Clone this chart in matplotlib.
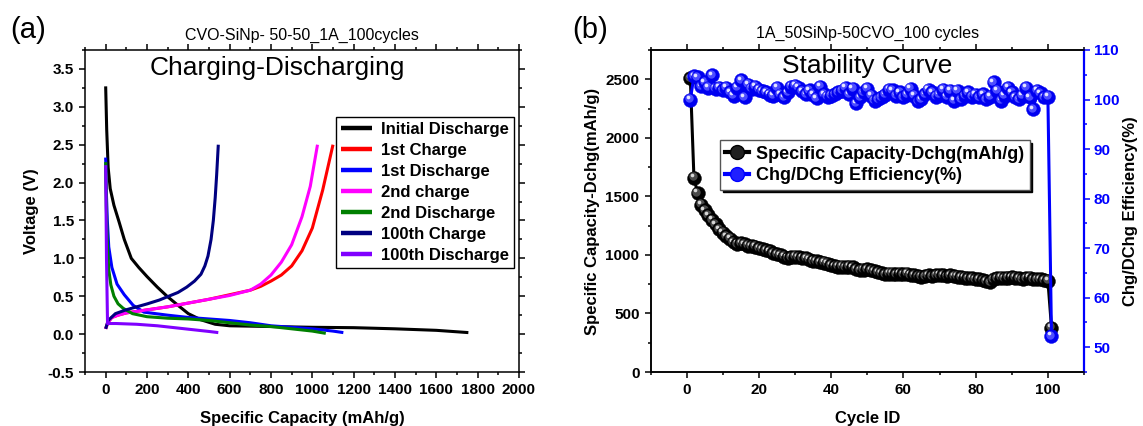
import matplotlib
matplotlib.use("Agg")
import matplotlib.pyplot as plt
from matplotlib.lines import Line2D
from matplotlib.transforms import offset_copy

plt.rcParams['font.family'] = ['Liberation Sans', 'DejaVu Sans']
plt.rcParams['font.weight'] = 'bold'
plt.rcParams['axes.labelweight'] = 'bold'
plt.rcParams['axes.linewidth'] = 1.1

# ---- panel (a): charge / discharge curves (capacity mAh/g, voltage V)
init_dis_x = [0, 5, 12, 22, 40, 65, 90, 124, 160, 200, 250, 297, 350, 400, 460, 530, 600, 800, 1000, 1200, 1400, 1600, 1755]
init_dis_v = [3.27, 2.7, 2.2, 1.92, 1.7, 1.48, 1.25, 1.0, 0.88, 0.76, 0.62, 0.5, 0.38, 0.27, 0.19, 0.13, 0.11, 0.1, 0.09, 0.085, 0.07, 0.05, 0.02]

ch1_x = [0, 10, 30, 60, 100, 200, 300, 400, 500, 600, 700, 750, 800, 850, 900, 950, 1000, 1050, 1100]
ch1_v = [0.07, 0.15, 0.22, 0.25, 0.28, 0.32, 0.36, 0.41, 0.46, 0.52, 0.58, 0.63, 0.70, 0.78, 0.9, 1.1, 1.4, 1.9, 2.5]

dis1_x = [0, 3, 8, 15, 30, 55, 90, 133, 185, 300, 400, 500, 600, 700, 800, 900, 1000, 1100, 1150]
dis1_v = [2.33, 1.9, 1.5, 1.15, 0.88, 0.66, 0.52, 0.38, 0.29, 0.25, 0.22, 0.2, 0.18, 0.15, 0.11, 0.09, 0.07, 0.04, 0.02]

ch2_x = [0, 10, 30, 60, 100, 200, 300, 400, 500, 600, 700, 750, 800, 850, 900, 950, 990, 1025]
ch2_v = [0.07, 0.15, 0.22, 0.25, 0.28, 0.32, 0.36, 0.41, 0.46, 0.51, 0.58, 0.66, 0.78, 0.95, 1.18, 1.55, 1.95, 2.5]

dis2_x = [0, 3, 8, 15, 25, 40, 60, 85, 130, 200, 300, 400, 500, 600, 700, 800, 900, 1000, 1065]
dis2_v = [2.27, 1.7, 1.2, 0.85, 0.65, 0.5, 0.4, 0.34, 0.27, 0.23, 0.21, 0.2, 0.18, 0.15, 0.12, 0.1, 0.07, 0.04, 0.01]

ch100_x = [0, 12, 47, 98, 150, 202, 260, 305, 350, 392, 430, 461, 480, 495, 510, 521, 530, 537, 545]
ch100_v = [0.07, 0.18, 0.27, 0.32, 0.36, 0.40, 0.45, 0.5, 0.55, 0.62, 0.7, 0.79, 0.9, 1.03, 1.25, 1.5, 1.8, 2.1, 2.5]

dis100_x = [0, 4, 9, 50, 100, 150, 200, 250, 300, 350, 400, 450, 500, 545]
dis100_v = [2.23, 1.0, 0.14, 0.14, 0.135, 0.13, 0.12, 0.11, 0.095, 0.08, 0.065, 0.05, 0.035, 0.02]

curve_labels = ["Initial Discharge", "1st Charge", "1st Discharge", "2nd charge",
                "2nd Discharge", "100th Charge", "100th Discharge"]
curve_colors = ["#000000", "#ff0000", "#0000ff", "#ff00ff", "#008000", "#000080", "#8000ff"]

# ---- panel (b): cycling stability
cycles = list(range(1, 102))
capacity = [2510, 1660, 1530, 1430, 1380, 1340, 1300, 1260, 1220, 1190,
            1160, 1140, 1110, 1095, 1100, 1090, 1080, 1075, 1070, 1060,
            1050, 1040, 1030, 1015, 1005, 995, 985, 975, 980, 985,
            980, 975, 970, 960, 950, 945, 940, 935, 925, 915,
            905, 900, 900, 895, 900, 895, 880, 870, 875, 880,
            870, 860, 850, 845, 835, 840, 840, 835, 840, 835,
            840, 830, 825, 820, 815, 820, 825, 820, 825, 830,
            825, 820, 825, 820, 815, 810, 805, 800, 800, 795,
            790, 785, 775, 765, 790, 800, 805, 800, 805, 810,
            805, 800, 795, 800, 805, 790, 795, 790, 785, 780,
            380]
efficiency = [100.0, 104.7, 104.5, 102.7, 103.5, 102.4, 104.9, 102.2, 102.4, 101.9,
              102.4, 101.5, 100.8, 102.4, 103.9, 100.5, 103.0, 102.2, 102.6, 102.0,
              101.7, 101.5, 101.0, 100.8, 102.4, 101.0, 100.5, 101.5, 102.6, 102.8,
              102.4, 101.7, 101.1, 101.9, 101.0, 100.3, 102.6, 101.1, 100.6, 100.8,
              101.1, 101.5, 101.8, 102.4, 101.1, 102.2, 99.3, 100.5, 101.5, 102.2,
              100.8, 99.8, 100.1, 100.5, 101.0, 102.0, 101.9, 100.8, 101.5, 100.5,
              101.0, 102.2, 100.8, 99.7, 100.1, 101.1, 102.0, 101.5, 100.6, 101.0,
              102.0, 100.6, 101.8, 99.8, 101.8, 100.1, 100.8, 101.5, 100.6, 101.0,
              100.5, 101.1, 100.1, 100.6, 103.5, 101.8, 99.8, 100.8, 102.4, 101.5,
              100.5, 100.1, 100.8, 102.4, 100.5, 98.1, 101.8, 101.3, 100.5, 100.6,
              52.3]

fig = plt.figure(figsize=(11.43, 4.26), dpi=100)
axA = fig.add_axes([85 / 1143, 54 / 426, 434 / 1143, 322 / 426])
axB = fig.add_axes([650.6 / 1143, 54 / 426, 433.4 / 1143, 322 / 426])

# ---------------- (a)
curves = [(init_dis_x, init_dis_v), (ch1_x, ch1_v), (dis1_x, dis1_v), (ch2_x, ch2_v),
          (dis2_x, dis2_v), (ch100_x, ch100_v), (dis100_x, dis100_v)]
for (cx, cv), lab, col in zip(curves, curve_labels, curve_colors):
    axA.plot(cx, cv, color=col, lw=2.2, label=lab, solid_capstyle='butt')

axA.set_xlim(-100, 2000)
axA.set_ylim(-0.5, 3.75)
axA.set_xticks(range(0, 2001, 200))
axA.set_xticks(range(-100, 2001, 100), minor=True)
axA.set_yticks([-0.5, 0, 0.5, 1.0, 1.5, 2.0, 2.5, 3.0, 3.5])
axA.set_yticks([-0.25 + 0.5 * i for i in range(9)], minor=True)
axA.set_yticklabels(["-0.5", "0.0", "0.5", "1.0", "1.5", "2.0", "2.5", "3.0", "3.5"])
axA.tick_params(which='both', direction='out', labelsize=11, width=1.1)
axA.tick_params(which='major', length=4.5)
axA.tick_params(which='minor', length=2.5)
axA.tick_params(axis='x', which='both', top=True)
axA.tick_params(axis='y', which='both', right=True)
axA.set_xlabel("Specific Capacity (mAh/g)", fontsize=12, labelpad=10)
axA.set_ylabel("Voltage (V)", fontsize=12, labelpad=6)
axA.set_title("CVO-SiNp- 50-50_1A_100cycles", fontsize=11.5, fontweight='normal', pad=7)
axA.text(0.442, 0.945, "Charging-Discharging", transform=axA.transAxes, fontsize=19,
         fontweight='normal', ha='center', va='center')
legA = axA.legend(loc='upper right', bbox_to_anchor=(0.988, 0.793), borderaxespad=0,
                  fontsize=12, handlelength=1.9, handletextpad=0.5, labelspacing=0.36,
                  fancybox=False, edgecolor='black', framealpha=1, borderpad=0.3)
legA.get_frame().set_linewidth(1.0)
for ln in legA.get_lines():
    ln.set_linewidth(3.2)

# ---------------- (b)
axB2 = axB.twinx()
axB.plot(cycles, capacity, color='black', lw=2.2, zorder=2)
axB2.plot(cycles, efficiency, color='blue', lw=2.2, zorder=2)


def balls(ax, xs, ys, dark, mid, light):
    t_mid = offset_copy(ax.transData, fig=fig, x=-0.9, y=0.9, units='points')
    t_hi = offset_copy(ax.transData, fig=fig, x=-1.7, y=1.7, units='points')
    for i, (x, y) in enumerate(zip(xs, ys)):
        z = 3 + i * 0.003
        ax.plot(x, y, 'o', ms=10, mfc=dark, mec=dark, mew=0.3, zorder=z)
        ax.plot(x, y, 'o', ms=6, mfc=mid, mec='none', transform=t_mid, zorder=z + 0.001)
        ax.plot(x, y, 'o', ms=2.6, mfc=light, mec='none', transform=t_hi, zorder=z + 0.002)


balls(axB, cycles, capacity, '#000000', '#4a4a4a', '#d8d8d8')
balls(axB2, cycles, efficiency, '#0000f0', '#4d4dff', '#e6e6ff')

axB.set_xlim(-10, 110)
axB.set_ylim(0, 2750)
axB2.set_ylim(45, 110)
axB.set_xticks(range(0, 101, 20))
axB.set_xticks(range(-10, 111, 10), minor=True)
axB.set_yticks(range(0, 2501, 500))
axB.set_yticks(range(250, 2751, 500), minor=True)
axB2.set_yticks(range(50, 111, 10))
axB2.set_yticks(range(45, 111, 5), minor=True)
axB.tick_params(which='both', direction='out', labelsize=11, width=1.1)
axB.tick_params(which='major', length=4.5)
axB.tick_params(which='minor', length=2.5)
axB.tick_params(axis='x', which='both', top=True)
axB2.tick_params(which='both', direction='out', labelsize=11, width=1.1, colors='blue', pad=2.5)
axB2.tick_params(which='major', length=4.5)
axB2.tick_params(which='minor', length=2.5)
axB2.spines['right'].set_color('blue')
axB2.spines['right'].set_linewidth(1.6)

axB.set_xlabel("Cycle ID", fontsize=12, labelpad=10)
axB.set_ylabel("Specific Capacity-Dchg(mAh/g)", fontsize=12, labelpad=4)
axB2.set_ylabel("Chg/DChg Efficiency(%)", fontsize=12, labelpad=3, color='black')
axB.set_title("1A_50SiNp-50CVO_100 cycles", fontsize=11.5, fontweight='normal', pad=9)
axB2.text(0.5, 0.95, "Stability Curve", transform=axB.transAxes, fontsize=19,
          fontweight='normal', ha='center', va='center', zorder=10)

handles = [Line2D([], [], color='black', lw=3, marker='o', ms=10, mfc='#202020', mec='black'),
           Line2D([], [], color='blue', lw=3, marker='o', ms=10, mfc='#2020ff', mec='blue')]
legB = axB2.legend(handles, ["Specific Capacity-Dchg(mAh/g)", "Chg/DChg Efficiency(%)"],
                   loc='upper left', bbox_to_anchor=(0.16, 0.72), borderaxespad=0,
                   fontsize=13, handlelength=1.3, handletextpad=0.4, labelspacing=0.25,
                   fancybox=False, edgecolor='#555555', framealpha=1, borderpad=0.3,
                   shadow={'color': 'black', 'alpha': 1})
legB.set_zorder(20)
legB.get_frame().set_linewidth(1.0)

fig.text(10 / 1143, 1 - 30 / 426, "(a)", fontsize=21, fontweight='normal', va='center')
fig.text(572 / 1143, 1 - 30 / 426, "(b)", fontsize=21, fontweight='normal', va='center')

fig.savefig("out.png", dpi=100)
